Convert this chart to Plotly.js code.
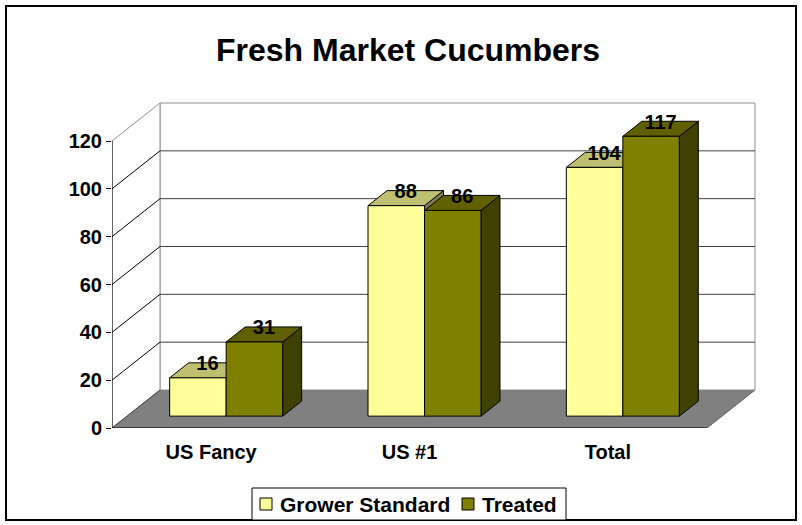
<!DOCTYPE html>
<html>
<head>
<meta charset="utf-8">
<script src="https://cdn.plot.ly/plotly-3.0.1.min.js"></script>
<style>html,body{margin:0;padding:0;background:#fff;}#chart{width:802px;height:525px;}</style>
</head>
<body>
<div id="chart"></div>
<script>
// ---- data ----
const categories = ['US Fancy', 'US #1', 'Total'];
const growerStandard = [16, 88, 104];
const treated = [31, 86, 117];
const seriesNames = ['Grower Standard', 'Treated'];
const yTickValues = [0, 20, 40, 60, 80, 100, 120];

// ---- geometry (styles) ----
const W = 802, H = 525;
const M = {l: 112, r: 42, t: 100, b: 97, autoexpand: false};
const plotW = W - M.l - M.r, plotH = H - M.t - M.b;
const pxPerCat = 198.33, pxPerUnit = 2.3917;
const xMax = -0.5 + plotW / pxPerCat;
const yMax = plotH / pxPerUnit;
const DX = 48 / pxPerCat;      // depth shift in category units
const DY = 38 / pxPerUnit;     // depth shift in value units
const dF = 0.3125, dB = 0.708; // bar front/back depth fractions
const barW = 56.5 / pxPerCat;
const yTop = yTickValues[yTickValues.length - 1];
const nCat = categories.length;

function proj(x, v, d) { return [x + d * DX, v + d * DY]; }
function px2paperX(px) { return (px - M.l) / plotW; }
function px2paperY(py) { return (H - M.b - py) / plotH; }

const traces = [];
function poly(pts, fill, lineColor, lw) {
  traces.push({
    type: 'scatter', mode: 'lines',
    x: pts.map(p => p[0]).concat([pts[0][0]]),
    y: pts.map(p => p[1]).concat([pts[0][1]]),
    fill: 'toself', fillcolor: fill,
    line: {color: lineColor, width: lw === undefined ? 1 : lw},
    hoverinfo: 'skip', showlegend: false
  });
}
function segs(list, color, lw) {
  const x = [], y = [];
  list.forEach(s => { x.push(s[0][0], s[1][0], null); y.push(s[0][1], s[1][1], null); });
  traces.push({type: 'scatter', mode: 'lines', x: x, y: y,
    line: {color: color, width: lw}, hoverinfo: 'skip', showlegend: false});
}

const xL = -0.5, xR = nCat - 0.5;
// floor
poly([proj(xL, 0, 0), proj(xR, 0, 0), proj(xR, 0, 1), proj(xL, 0, 1)], '#808080', '#606060');
// back wall
poly([proj(xL, 0, 1), proj(xR, 0, 1), proj(xR, yTop, 1), proj(xL, yTop, 1)], '#ffffff', '#909090');
// left wall
poly([proj(xL, 0, 0), proj(xL, 0, 1), proj(xL, yTop, 1), proj(xL, yTop, 0)], '#ffffff', '#909090');
// gridlines on back wall and left wall
const inner = yTickValues.filter(v => v > 0 && v < yTop);
segs(inner.map(v => [proj(xL, v, 1), proj(xR, v, 1)]), '#404040', 1);
segs(inner.map(v => [proj(xL, v, 0), proj(xL, v, 1)]), '#000000', 1);
segs([[proj(xL, 0, 0), proj(xL, 0, 1)]], '#404040', 1);

// bars
const faceCols = [
  {front: '#FFFF99', top: '#BFBF72', side: '#80804C'},
  {front: '#808000', top: '#606000', side: '#404000'}
];
const seriesVals = [growerStandard, treated];
function bar(xl, xr, v, c) {
  const side = [proj(xr, 0, dF), proj(xr, 0, dB), proj(xr, v, dB), proj(xr, v, dF)];
  const top = [proj(xl, v, dF), proj(xr, v, dF), proj(xr, v, dB), proj(xl, v, dB)];
  const front = [proj(xl, 0, dF), proj(xr, 0, dF), proj(xr, v, dF), proj(xl, v, dF)];
  poly(side, c.side, '#000000');
  poly(top, c.top, '#000000');
  poly(front, c.front, '#000000');
}
for (let i = 0; i < nCat; i++) {
  bar(i - barW, i, growerStandard[i], faceCols[0]);
  bar(i, i + barW, treated[i], faceCols[1]);
}

// axis lines
segs([[proj(xL, 0, 0), proj(xL, yTop, 0)]], '#000000', 1);
segs([[proj(xL, 0, 0), proj(xR, 0, 0)]], '#000000', 1);

// data labels
const labelLift = 5 / pxPerUnit;
const dMid = (dF + dB) / 2;
seriesVals.forEach((vals, s) => {
  const xs = [], ys = [], tx = [];
  vals.forEach((v, i) => {
    const xc = s === 0 ? i - barW / 2 : i + barW / 2;
    const p = proj(xc, v, dMid);
    xs.push(p[0]); ys.push(p[1] + labelLift); tx.push(String(v));
  });
  traces.push({type: 'scatter', mode: 'text', x: xs, y: ys, text: tx,
    textposition: 'middle center',
    textfont: {family: 'Liberation Sans, Arial, sans-serif', size: 20, color: '#000', weight: 'bold'},
    hoverinfo: 'skip', showlegend: false, cliponaxis: false});
});

// x tick marks at category boundaries
const boundaryTicks = [];
for (let i = 0; i <= nCat; i++) boundaryTicks.push(i - 0.5);
const shapes = boundaryTicks.map(x => ({
  type: 'line', xref: 'x', yref: 'y', ysizemode: 'pixel', yanchor: 0,
  x0: x, x1: x, y0: 0, y1: -5, line: {color: '#000', width: 1}
}));
// outer chart border
shapes.push({type: 'rect', xref: 'paper', yref: 'paper',
  x0: px2paperX(6), x1: px2paperX(796), y0: px2paperY(520), y1: px2paperY(6),
  line: {color: '#000', width: 2}, fillcolor: 'rgba(0,0,0,0)', layer: 'below'});

// legend box (drawn as shapes + annotations)
const legendBox = {x0: 252, x1: 566, y0: 488, y1: 520};
const legendItems = [{sq: 260, tx: 278}, {sq: 462, tx: 480}];
const legendMid = (legendBox.y0 + legendBox.y1) / 2;
shapes.push({type: 'rect', xref: 'paper', yref: 'paper',
  x0: px2paperX(legendBox.x0), x1: px2paperX(legendBox.x1),
  y0: px2paperY(legendBox.y1), y1: px2paperY(legendBox.y0),
  line: {color: '#000', width: 1}, fillcolor: '#fff'});
const annotations = [];
seriesNames.forEach((n, s) => {
  const it = legendItems[s];
  shapes.push({type: 'rect', xref: 'paper', yref: 'paper',
    x0: px2paperX(it.sq), x1: px2paperX(it.sq + 12),
    y0: px2paperY(legendMid + 6), y1: px2paperY(legendMid - 6),
    line: {color: '#000', width: 1}, fillcolor: faceCols[s].front});
  annotations.push({xref: 'paper', yref: 'paper', x: px2paperX(it.tx), y: px2paperY(legendMid),
    xanchor: 'left', yanchor: 'middle', showarrow: false, text: n,
    font: {family: 'Liberation Sans, Arial, sans-serif', size: 21, color: '#000', weight: 'bold'}});
});

const font = {family: 'Liberation Sans, Arial, sans-serif', color: '#000'};
const layout = {
  width: W, height: H,
  margin: M,
  paper_bgcolor: '#fff', plot_bgcolor: 'rgba(0,0,0,0)',
  font: font,
  title: {text: 'Fresh Market Cucumbers', xref: 'container', yref: 'container',
    x: 408 / W, y: 1 - 50 / H, xanchor: 'center', yanchor: 'middle',
    font: {family: font.family, size: 32, color: '#000', weight: 'bold'}},
  xaxis: {range: [-0.5, xMax], tickmode: 'array', tickvals: categories.map((c, i) => i),
    ticktext: categories, ticks: 'outside', ticklen: 6, tickcolor: 'rgba(0,0,0,0)',
    showgrid: false, zeroline: false, showline: false, fixedrange: true, automargin: false,
    tickfont: {family: font.family, size: 20, color: '#000', weight: 'bold'}},
  yaxis: {range: [0, yMax], tickmode: 'array', tickvals: yTickValues,
    ticks: 'outside', ticklen: 5, tickcolor: '#000', tickwidth: 1,
    showgrid: false, zeroline: false, showline: false, fixedrange: true, automargin: false,
    tickfont: {family: font.family, size: 20, color: '#000', weight: 'bold'}},
  showlegend: false,
  shapes: shapes,
  annotations: annotations
};
Plotly.newPlot('chart', traces, layout, {displayModeBar: false, staticPlot: true});
</script>
</body>
</html>
